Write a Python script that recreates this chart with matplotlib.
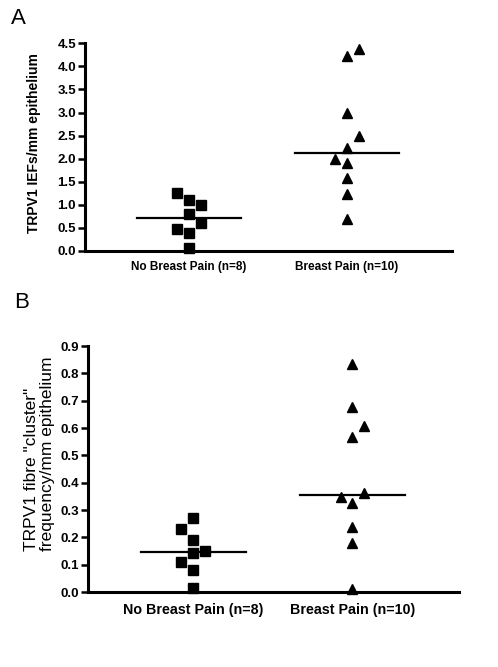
import matplotlib.pyplot as plt
import numpy as np

plt.rcParams['font.family'] = ['Liberation Sans', 'DejaVu Sans']

groups = ['No Breast Pain (n=8)', 'Breast Pain (n=10)']

# panel A: TRPV1 IEFs/mm epithelium
a_no_pain = [1.25, 1.10, 1.00, 0.80, 0.61, 0.48, 0.40, 0.06]
a_no_pain_slot = [-1, 0, 1, 0, 1, -1, 0, 0]
a_pain = [4.38, 4.23, 3.00, 2.50, 2.24, 2.00, 1.90, 1.59, 1.24, 0.70]
a_pain_slot = [1, 0, 0, 1, 0, -1, 0, 0, 0, 0]
a_medians = [0.72, 2.12]

# panel B: TRPV1 fibre "cluster" frequency/mm epithelium
b_no_pain = [0.272, 0.229, 0.189, 0.150, 0.142, 0.109, 0.079, 0.013]
b_no_pain_slot = [0, -1, 0, 1, 0, -1, 0, 0]
b_pain = [0.834, 0.678, 0.608, 0.568, 0.361, 0.349, 0.327, 0.238, 0.178, 0.011]
b_pain_slot = [0, 0, 1, 0, 1, -1, 0, 0, 0, 0]
b_medians = [0.147, 0.356]

fig = plt.figure(figsize=(4.98, 6.67), dpi=100)
ax1 = fig.add_axes([0.1707, 0.6237, 0.737, 0.3114])
ax2 = fig.add_axes([0.1767, 0.1124, 0.745, 0.3688])

step = 0.074


def draw(ax, no_pain, no_slot, pain, pain_slot, medians, ms):
    xs = [1, 2]
    ax.plot(xs[0] + np.array(no_slot) * step, no_pain, 's', color='black',
            markersize=ms, linestyle='none', clip_on=False)
    ax.plot(xs[1] + np.array(pain_slot) * step, pain, '^', color='black',
            markersize=ms + 0.6, linestyle='none', clip_on=False)
    for x, m in zip(xs, medians):
        ax.plot([x - 0.33, x + 0.33], [m, m], color='black', lw=1.6)
    ax.set_xlim(0.342, 2.665)
    ax.set_xticks(xs)
    ax.spines['top'].set_visible(False)
    ax.spines['right'].set_visible(False)
    ax.spines['left'].set_linewidth(2.2)
    ax.spines['bottom'].set_linewidth(2.2)
    ax.tick_params(axis='y', length=5, width=1.8, pad=1.5)


draw(ax1, a_no_pain, a_no_pain_slot, a_pain, a_pain_slot, a_medians, 6.5)
ax1.tick_params(axis='x', length=0, pad=7)
ax1.set_ylim(0, 4.5)
ax1.set_yticks(np.arange(0, 4.51, 0.5))
ax1.set_yticklabels([f'{v:.1f}' for v in np.arange(0, 4.51, 0.5)],
                    fontsize=9.5, fontweight='bold')
ax1.set_xticklabels(groups, fontsize=8.5, fontweight='bold')
fig.text(0.0673, 0.7856, 'TRPV1 IEFs/mm epithelium', fontsize=10,
         fontweight='bold', rotation=90, ha='center', va='center')

draw(ax2, b_no_pain, b_no_pain_slot, b_pain, b_pain_slot, b_medians, 6.5)
ax2.tick_params(axis='x', length=0, pad=8)
ax2.set_xlim(0.34, 2.67)
ax2.set_ylim(0, 0.9)
ax2.set_yticks(np.arange(0, 0.91, 0.1))
ax2.set_yticklabels([f'{v:.1f}' for v in np.arange(0, 0.91, 0.1)],
                    fontsize=9.5, fontweight='bold')
ax2.set_xticklabels(groups, fontsize=10.3, fontweight='bold')
fig.text(0.079, 0.3193, 'TRPV1 fibre "cluster"\nfrequency/mm epithelium',
         fontsize=12.5, rotation=90, ha='center', va='center',
         multialignment='left', linespacing=1.05)

fig.text(0.022, 0.973, 'A', fontsize=16, ha='left', va='center')
fig.text(0.029, 0.5465, 'B', fontsize=16, ha='left', va='center')

fig.savefig('out.png', dpi=100)
